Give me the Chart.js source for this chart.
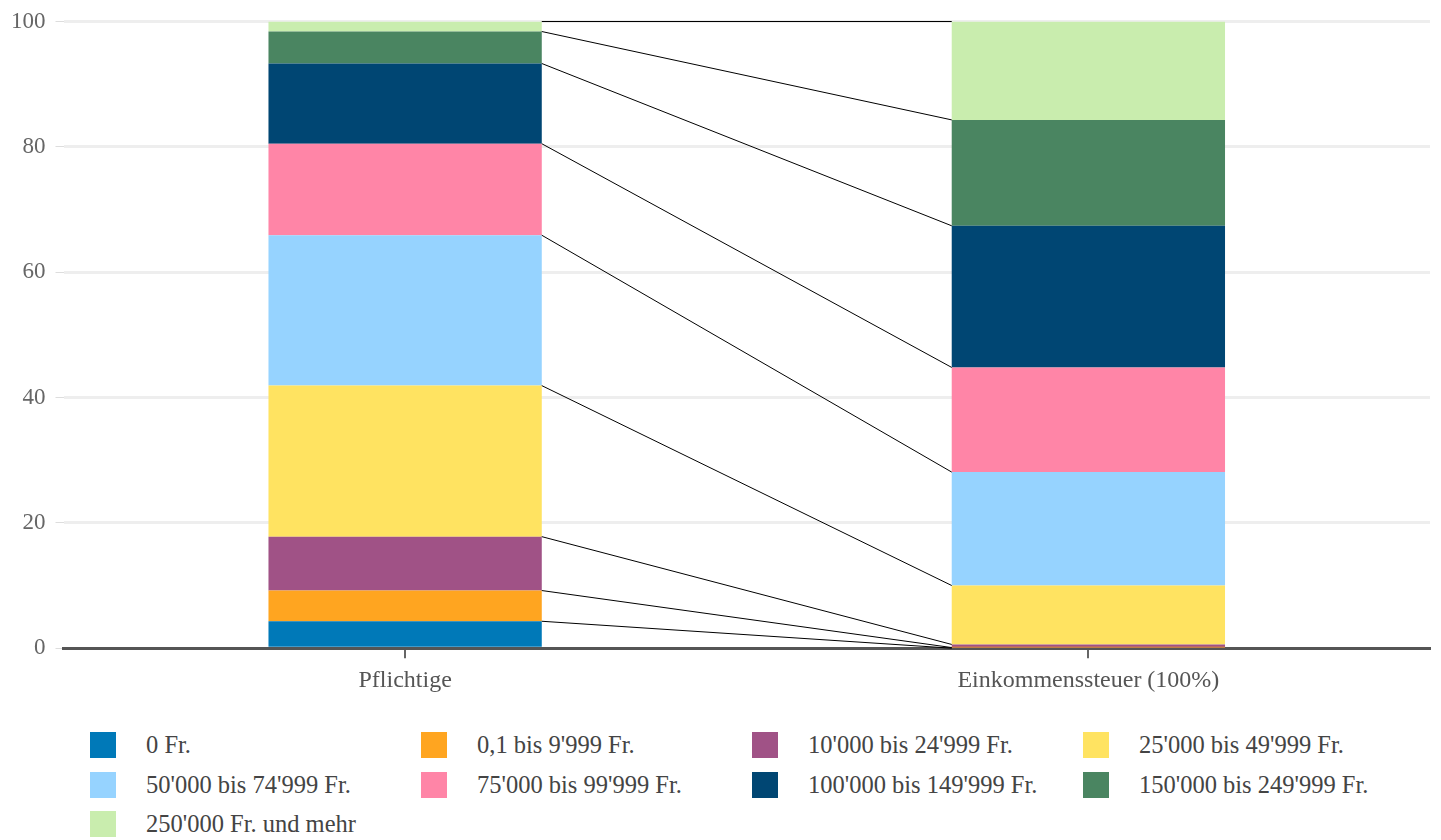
<!DOCTYPE html>
<html lang="de">
<head>
    <meta charset="UTF-8">
    <title>Pflichtige und Einkommenssteuer nach Einkommensklassen</title>
    <script src="https://cdn.jsdelivr.net/npm/chart.js@4"></script>
    <style>
        body { margin: 0; background: #fff; font-family: 'Liberation Serif', 'Times New Roman', serif; }
        .chart-wrap { position: relative; width: 1441px; height: 703px; }
        .legend {
            position: absolute; left: 90px; top: 732px;
            display: grid; grid-template-columns: repeat(4, 331px); row-gap: 13.5px;
        }
        .legend-item { display: flex; align-items: center; height: 26px; font-size: 24.5px; color: #444; white-space: nowrap; }
        .legend-box { width: 26px; height: 26px; margin-right: 30px; flex: none; }
    </style>
</head>
<body>
    <div class="chart-wrap">
        <canvas id="chart"></canvas>
    </div>
    <div class="legend" id="legend"></div>

    <script>
        // categories on the x axis
        const categories = ['Pflichtige', 'Einkommenssteuer (100%)'];

        // income classes (one stacked dataset each)
        const incomeClasses = [
            '0 Fr.',
            '0,1 bis 9\'999 Fr.',
            '10\'000 bis 24\'999 Fr.',
            '25\'000 bis 49\'999 Fr.',
            '50\'000 bis 74\'999 Fr.',
            '75\'000 bis 99\'999 Fr.',
            '100\'000 bis 149\'999 Fr.',
            '150\'000 bis 249\'999 Fr.',
            '250\'000 Fr. und mehr'
        ];

        // share in % per class
        const pflichtige = [4.3, 4.9, 8.6, 24.1, 24.0, 14.6, 12.8, 5.1, 1.6];
        const einkommenssteuer = [0.0, 0.1, 0.5, 9.4, 18.1, 16.7, 22.6, 16.9, 15.7];

        const classColors = [
            '#0079b8', '#ffa520', '#a05286', '#ffe361', '#96d3ff',
            '#ff85a7', '#004673', '#4a8561', '#c9edae'
        ];

        const yTicks = [0, 20, 40, 60, 80, 100];

        // draws the thin lines linking the segment boundaries of both bars
        const connectorPlugin = {
            id: 'connectors',
            afterDatasetsDraw(chart) {
                const ctx = chart.ctx;
                ctx.save();
                ctx.strokeStyle = '#000';
                ctx.lineWidth = 1;
                chart.data.datasets.forEach((ds, i) => {
                    const bars = chart.getDatasetMeta(i).data;
                    const a = bars[0], b = bars[1];
                    ctx.beginPath();
                    ctx.moveTo(a.x + a.width / 2, a.y);
                    ctx.lineTo(b.x - b.width / 2, b.y);
                    ctx.stroke();
                });
                ctx.restore();
            }
        };

        const datasets = incomeClasses.map((label, i) => ({
            label: label,
            data: [pflichtige[i], einkommenssteuer[i]],
            backgroundColor: classColors[i],
            borderWidth: 0,
            categoryPercentage: 1,
            barPercentage: 0.4
        }));

        const serif = "'Liberation Serif', 'Times New Roman', serif";

        new Chart(document.getElementById('chart'), {
            type: 'bar',
            data: { labels: categories, datasets: datasets },
            options: {
                responsive: true,
                maintainAspectRatio: false,
                animation: false,
                layout: { padding: { top: 6.5, right: 11, left: 1, bottom: 0 } },
                plugins: {
                    legend: { display: false },
                    tooltip: { enabled: false }
                },
                scales: {
                    x: {
                        stacked: true,
                        grid: {
                            offset: false,
                            drawOnChartArea: false,
                            drawTicks: true,
                            tickLength: 10,
                            color: '#666',
                            lineWidth: 2
                        },
                        border: { display: true, color: '#555', width: 3 },
                        ticks: { font: { family: serif, size: 24 }, color: '#555', padding: 8 }
                    },
                    y: {
                        stacked: true,
                        min: yTicks[0],
                        max: yTicks[yTicks.length - 1],
                        afterBuildTicks(axis) {
                            axis.ticks = yTicks.map(v => ({ value: v }));
                        },
                        grid: {
                            color: '#eeeeee',
                            lineWidth: 3,
                            tickLength: 8,
                            tickColor: '#dddddd',
                            tickWidth: 1
                        },
                        border: { display: false },
                        ticks: { font: { family: serif, size: 23, lineHeight: 1 }, color: '#666', padding: 10 }
                    }
                }
            },
            plugins: [connectorPlugin]
        });

        // legend in a fixed four-column grid
        const legend = document.getElementById('legend');
        incomeClasses.forEach((label, i) => {
            const item = document.createElement('div');
            item.className = 'legend-item';
            item.innerHTML = `<span class="legend-box" style="background:${classColors[i]}"></span><span>${label}</span>`;
            legend.appendChild(item);
        });
    </script>
</body>
</html>
